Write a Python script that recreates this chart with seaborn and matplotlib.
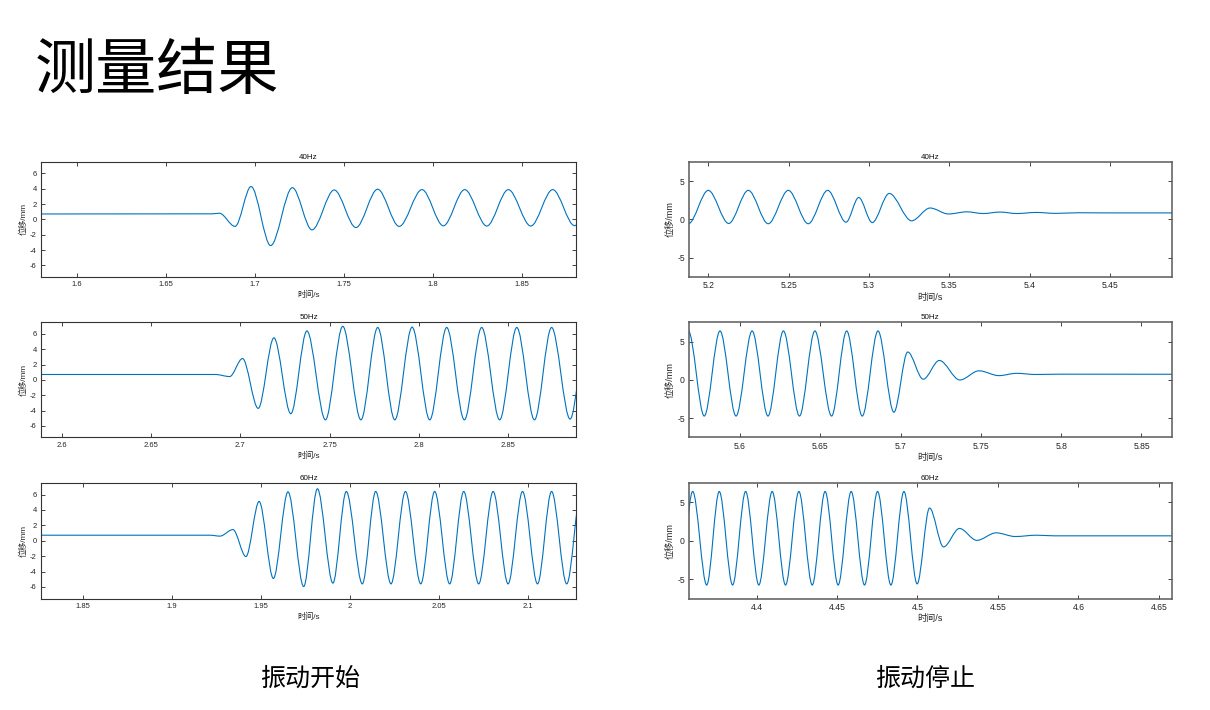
import matplotlib
matplotlib.use("Agg")
import matplotlib.pyplot as plt
import seaborn as sns
from matplotlib.path import Path
from matplotlib.patches import PathPatch

# ---- data (times in s, displacement in mm) ----
# key points of each trace: flat baseline, onset, then every peak / trough
t_40_start = [1.575, 1.676, 1.680, 1.6888, 1.6978, 1.7088, 1.7210, 1.7320, 1.7445, 1.7567,
              1.7689, 1.7810, 1.7938, 1.8058, 1.8178, 1.8302, 1.8423, 1.8549, 1.8672, 1.8795, 1.8918]
y_40_start = [0.72, 0.74, 0.82, -0.90, 4.30, -3.40, 4.15, -1.35, 3.85, -1.05,
              3.95, -0.90, 3.90, -0.82, 3.90, -0.85, 3.90, -0.85, 3.90, -0.80, 3.90]

t_50_start = [2.585, 2.686, 2.694, 2.7012, 2.7100, 2.7188, 2.7283, 2.7373, 2.7477, 2.7574,
              2.7676, 2.7770, 2.7866, 2.7963, 2.8062, 2.8157, 2.8256, 2.8353, 2.8454, 2.8550,
              2.8649, 2.8745, 2.8849, 2.8945]
y_50_start = [0.72, 0.72, 0.45, 2.80, -3.70, 5.50, -4.40, 6.40, -5.20, 7.00,
              -5.20, 6.85, -5.20, 6.90, -5.20, 6.85, -5.20, 6.85, -5.20, 6.85,
              -5.20, 6.85, -5.10, 6.85]

t_60_start = [1.820, 1.9215, 1.9270, 1.9343, 1.9416, 1.9490, 1.9570, 1.9652, 1.9740, 1.9817,
              1.9904, 1.9979, 2.0069, 2.0144, 2.0230, 2.0311, 2.0397, 2.0475, 2.0559, 2.0638,
              2.0722, 2.0803, 2.0887, 2.0968, 2.1052, 2.1131, 2.1216, 2.1297]
y_60_start = [0.72, 0.72, 0.60, 1.45, -2.05, 5.10, -4.90, 6.35, -5.95, 6.75,
              -5.50, 6.40, -5.60, 6.40, -5.60, 6.40, -5.60, 6.40, -5.60, 6.40,
              -5.60, 6.40, -5.60, 6.40, -5.60, 6.40, -5.60, 6.40]

t_40_stop = [5.1876, 5.2000, 5.2127, 5.2249, 5.2373, 5.2498, 5.2622, 5.2743, 5.2857, 5.2936,
             5.3020, 5.3126, 5.3265, 5.3380, 5.3494, 5.3608, 5.3710, 5.3815, 5.3920, 5.4040,
             5.4160, 5.4300, 5.4500, 5.4900]
y_40_stop = [-0.55, 3.80, -0.52, 3.80, -0.55, 3.80, -0.55, 3.80, -0.35, 2.87,
             -0.40, 3.40, -0.17, 1.50, 0.72, 1.00, 0.78, 0.97, 0.78, 0.92,
             0.80, 0.88, 0.86, 0.86]

t_50_stop = [5.5678, 5.5777, 5.5875, 5.5975, 5.6075, 5.6174, 5.6270, 5.6370, 5.6466, 5.6570,
             5.6664, 5.6761, 5.6859, 5.6958, 5.7044, 5.7141, 5.7241, 5.7369, 5.7488, 5.7612,
             5.7722, 5.7840, 5.8000, 5.8700]
y_50_stop = [6.40, -4.70, 6.40, -4.70, 6.40, -4.70, 6.40, -4.70, 6.40, -4.70,
             6.40, -4.70, 6.40, -4.20, 3.65, 0.10, 2.55, 0.00, 1.20, 0.57,
             0.87, 0.72, 0.76, 0.75]

t_60_stop = [4.3520, 4.3603, 4.3690, 4.3768, 4.3851, 4.3932, 4.4014, 4.4097, 4.4180, 4.4263,
             4.4346, 4.4426, 4.4507, 4.4588, 4.4671, 4.4752, 4.4835, 4.4916, 4.4998, 4.5075,
             4.5162, 4.5261, 4.5369, 4.5489, 4.5607, 4.5741, 4.5850, 4.6600]
y_60_stop = [-5.75, 6.40, -5.75, 6.40, -5.75, 6.40, -5.75, 6.40, -5.75, 6.40,
             -5.75, 6.40, -5.75, 6.40, -5.75, 6.40, -5.75, 6.40, -5.60, 4.25,
             -0.80, 1.60, 0.05, 1.03, 0.55, 0.72, 0.64, 0.64]

# axis ranges and ticks
xlim_start = [(1.5798, 1.8803), (2.5882, 2.8882), (1.8266, 2.1268)]
xlim_stop = [(5.188, 5.4882), (5.5682, 5.8687), (4.358, 4.6579)]
xticks_start = [[1.6, 1.65, 1.7, 1.75, 1.8, 1.85],
                [2.6, 2.65, 2.7, 2.75, 2.8, 2.85],
                [1.85, 1.9, 1.95, 2.0, 2.05, 2.1]]
xticks_stop = [[5.2, 5.25, 5.3, 5.35, 5.4, 5.45],
               [5.6, 5.65, 5.7, 5.75, 5.8, 5.85],
               [4.4, 4.45, 4.5, 4.55, 4.6, 4.65]]
yticks_start = [-6, -4, -2, 0, 2, 4, 6]
yticks_stop = [-5, 0, 5]
freq_labels = ["40Hz", "50Hz", "60Hz"]

LINE_BLUE = "#0072BD"
W, H = 1210, 710

sns.set_theme(style="ticks", rc={"axes.facecolor": "white", "figure.facecolor": "white"})
plt.rcParams["font.family"] = ["Liberation Sans", "Noto Sans CJK SC", "DejaVu Sans"]


def smooth_path(t, y):
    # cubic segments with flat tangents at each read extremum
    verts = [(t[0], y[0])]
    codes = [Path.MOVETO]
    for i in range(1, len(t)):
        dt = t[i] - t[i - 1]
        verts += [(t[i - 1] + dt / 3, y[i - 1]), (t[i] - dt / 3, y[i]), (t[i], y[i])]
        codes += [Path.CURVE4] * 3
    return Path(verts, codes)


def make_axes(fig, x0, x1, y0, y1):
    return fig.add_axes([x0 / W, 1 - y1 / H, (x1 - x0) / W, (y1 - y0) / H])


def style_axes(ax, t, y, xlim, xticks, yticks, title, fs, spine_col, spine_lw):
    ax.add_patch(PathPatch(smooth_path(t, y), fill=False, edgecolor=LINE_BLUE, lw=0.8))
    ax.set_xlim(*xlim)
    ax.set_ylim(-7.5, 7.5)
    ax.set_xticks(xticks)
    ax.set_xticklabels([f"{v:g}" for v in xticks])
    ax.set_yticks(yticks)
    ax.set_yticklabels([f"{v:g}" for v in yticks])
    ax.tick_params(direction="in", top=True, right=True, length=3, width=0.6,
                   labelsize=fs, colors="#262626", pad=3)
    for s in ax.spines.values():
        s.set_visible(True)
        s.set_color(spine_col)
        s.set_linewidth(spine_lw)
    ax.set_title(title, fontsize=5.8, pad=2.5, color="#111111")
    ax.set_xlabel("时间/s", fontsize=fs + 0.4, labelpad=2, color="#262626")
    ax.set_ylabel("位移/mm", fontsize=fs + 0.4, labelpad=2, color="#262626")


fig = plt.figure(figsize=(W / 100, H / 100), dpi=100)

rows = [(162, 277), (322.5, 437.5), (483, 598.5)]
start_data = [(t_40_start, y_40_start), (t_50_start, y_50_start), (t_60_start, y_60_start)]
stop_data = [(t_40_stop, y_40_stop), (t_50_stop, y_50_stop), (t_60_stop, y_60_stop)]

for i, (r0, r1) in enumerate(rows):
    ax = make_axes(fig, 41, 576, r0, r1)
    style_axes(ax, *start_data[i], xlim_start[i], xticks_start[i], yticks_start,
               freq_labels[i], 5.5, "#333333", 0.8)
    ax = make_axes(fig, 689, 1171.5, r0, r1)
    style_axes(ax, *stop_data[i], xlim_stop[i], xticks_stop[i], yticks_stop,
               freq_labels[i], 6.2, "#5a5a5a", 1.1)

fig.text(35 / W, 1 - 72 / H, "测量结果", fontsize=44, ha="left", va="center",
         family=["Noto Sans CJK SC"], weight="light", color="black")
fig.text(310 / W, 1 - 679 / H, "振动开始", fontsize=18, ha="center", va="center",
         family=["Noto Sans CJK SC"], weight="light", color="black")
fig.text(925 / W, 1 - 679 / H, "振动停止", fontsize=18, ha="center", va="center",
         family=["Noto Sans CJK SC"], weight="light", color="black")

fig.savefig("out.png", dpi=100)
